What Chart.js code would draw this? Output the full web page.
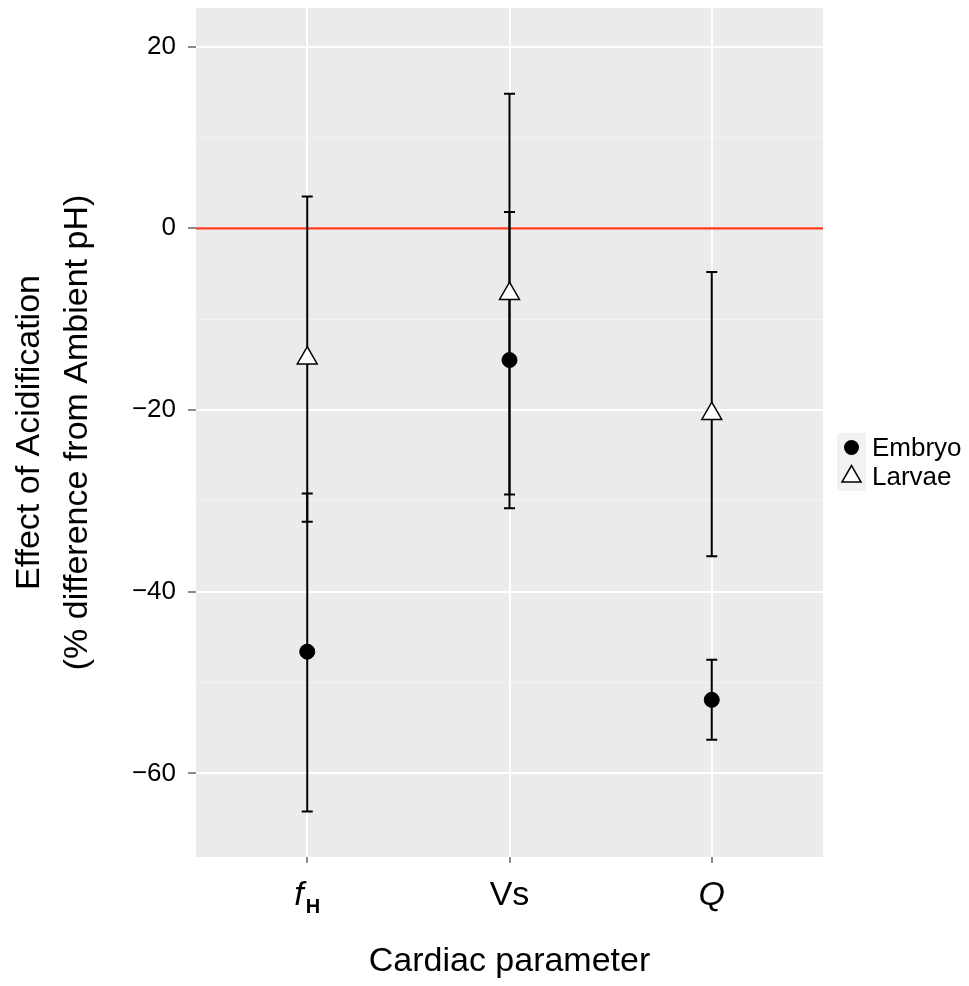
<!DOCTYPE html>
<html>
<head>
<meta charset="utf-8">
<script src="https://cdn.jsdelivr.net/npm/chart.js@4.4.1/dist/chart.umd.min.js"></script>
<style>
  html, body { margin: 0; padding: 0; background: #fff; }
  canvas { display: block; }
</style>
</head>
<body>
<canvas id="chart" width="969" height="986"></canvas>
<script>
const categories = ["fH", "Vs", "Q"];
const catPos = [1, 2, 3];
const embryoMean = [-46.6, -14.5, -51.9];
const embryoLow = [-64.2, -30.8, -56.3];
const embryoHigh = [-29.2, 1.8, -47.5];
const larvaeMean = [-14.3, -7.2, -20.4];
const larvaeLow = [-32.3, -29.3, -36.1];
const larvaeHigh = [3.5, 14.8, -4.8];
const yTicks = [-60, -50, -40, -30, -20, -10, 0, 10, 20];
const yLabelled = [-60, -40, -20, 0, 20];

const FONT = "'Liberation Sans', Arial, Helvetica, sans-serif";

const toPoints = arr => arr.map((v, i) => ({ x: catPos[i], y: v }));

const errorBars = {
    id: "errorBars",
    beforeDraw(chart) {
        const { ctx, chartArea: a } = chart;
        ctx.save();
        ctx.fillStyle = "#ebebeb";
        ctx.fillRect(a.left, a.top, a.right - a.left, a.bottom - a.top);
        ctx.restore();
    },
    beforeDatasetsDraw(chart) {
        const { ctx, chartArea: a, scales: { x, y } } = chart;
        ctx.save();
        // zero reference line
        ctx.strokeStyle = "#ff3b1f";
        ctx.lineWidth = 2.2;
        ctx.beginPath();
        ctx.moveTo(a.left, y.getPixelForValue(0));
        ctx.lineTo(a.right, y.getPixelForValue(0));
        ctx.stroke();
        // error bars
        ctx.strokeStyle = "#000";
        ctx.lineWidth = 2;
        [[embryoLow, embryoHigh], [larvaeLow, larvaeHigh]].forEach(([lo, hi]) => {
            catPos.forEach((c, i) => {
                const px = x.getPixelForValue(c);
                const y1 = y.getPixelForValue(lo[i]), y2 = y.getPixelForValue(hi[i]);
                ctx.beginPath();
                ctx.moveTo(px, y1); ctx.lineTo(px, y2);
                ctx.moveTo(px - 5.5, y1); ctx.lineTo(px + 5.5, y1);
                ctx.moveTo(px - 5.5, y2); ctx.lineTo(px + 5.5, y2);
                ctx.stroke();
            });
        });
        ctx.restore();
    },
    afterDraw(chart) {
        const { ctx, scales: { x } } = chart;
        ctx.save();
        ctx.fillStyle = "#000";
        ctx.textBaseline = "alphabetic";
        const base = 905;
        // x tick labels
        catPos.forEach((c, i) => {
            const px = x.getPixelForValue(c);
            if (categories[i] === "fH") {
                ctx.font = "italic 34px " + FONT;
                const w1 = ctx.measureText("f").width;
                ctx.font = "bold 20px " + FONT;
                const w2 = ctx.measureText("H").width;
                const start = px - (w1 + w2 + 2) / 2;
                ctx.textAlign = "left";
                ctx.font = "italic 34px " + FONT;
                ctx.fillText("f", start, base);
                ctx.font = "bold 20px " + FONT;
                ctx.fillText("H", start + w1 + 2, base + 8);
            } else {
                ctx.textAlign = "center";
                ctx.font = (categories[i] === "Q" ? "italic " : "") + "34px " + FONT;
                ctx.fillText(categories[i], px, base);
            }
        });
        // legend
        const items = [["Embryo", "circle"], ["Larvae", "triangle"]];
        items.forEach(([label, shape], k) => {
            const top = 433 + k * 29;
            ctx.fillStyle = "#f2f2f2";
            ctx.fillRect(837, top, 29, 29);
            const cx = 851.5, cy = top + 14.5;
            ctx.strokeStyle = "#000";
            ctx.lineWidth = 1.5;
            if (shape === "circle") {
                ctx.fillStyle = "#000";
                ctx.beginPath(); ctx.arc(cx, cy, 7.5, 0, Math.PI * 2); ctx.fill();
            } else {
                const r = 11;
                ctx.fillStyle = "#fff";
                ctx.beginPath();
                ctx.moveTo(cx, cy - r);
                ctx.lineTo(cx + r * 0.866, cy + r * 0.5);
                ctx.lineTo(cx - r * 0.866, cy + r * 0.5);
                ctx.closePath(); ctx.fill(); ctx.stroke();
            }
            ctx.fillStyle = "#000";
            ctx.font = "26px " + FONT;
            ctx.textAlign = "left";
            ctx.textBaseline = "middle";
            ctx.fillText(label, 872, cy + 1);
            ctx.textBaseline = "alphabetic";
        });
        ctx.restore();
    }
};

new Chart(document.getElementById("chart"), {
    type: "scatter",
    data: {
        datasets: [
            { label: "Embryo", data: toPoints(embryoMean), pointStyle: "circle", pointRadius: 7.5,
              backgroundColor: "#000", borderColor: "#000", borderWidth: 1 },
            { label: "Larvae", data: toPoints(larvaeMean), pointStyle: "triangle", pointRadius: 11.5,
              backgroundColor: "#fff", borderColor: "#000", borderWidth: 1.5 }
        ]
    },
    options: {
        responsive: false,
        animation: false,
        devicePixelRatio: 1,
        layout: { autoPadding: false, padding: { top: 8, right: 146, left: 0, bottom: 0 } },
        plugins: { legend: { display: false }, tooltip: { enabled: false } },
        scales: {
            x: {
                type: "linear", min: 0.45, max: 3.55,
                afterBuildTicks: s => { s.ticks = catPos.map(v => ({ value: v })); },
                afterFit: s => { s.height = 129; s.paddingLeft = 0; s.paddingRight = 0; },
                grid: { color: "#fff", lineWidth: 2, tickColor: "#8a8a8a", tickLength: 6, tickWidth: 2 },
                border: { display: false },
                ticks: { display: false },
                title: { display: true, text: "Cardiac parameter", color: "#000",
                         font: { family: FONT, size: 34 }, padding: { top: 42 } }
            },
            y: {
                type: "linear", min: -69.2, max: 24.25,
                afterBuildTicks: s => { s.ticks = yTicks.map(v => ({ value: v })); },
                afterFit: s => { s.width = 196; s.paddingTop = 0; s.paddingBottom = 0; },
                grid: {
                    color: c => yLabelled.includes(c.tick.value) ? "#fff" : "#f4f4f4",
                    lineWidth: c => yLabelled.includes(c.tick.value) ? 2 : 1,
                    tickColor: c => yLabelled.includes(c.tick.value) ? "#8a8a8a" : "rgba(0,0,0,0)",
                    tickLength: 8, tickWidth: 2
                },
                border: { display: false },
                ticks: {
                    color: "#000", padding: 12, font: { family: FONT, size: 26 },
                    callback: v => yLabelled.includes(v) ? (v < 0 ? "\u2212" + Math.abs(v) : String(v)) : ""
                },
                title: { display: true, text: ["Effect of Acidification", "(% difference from Ambient pH)"],
                         color: "#000", font: { family: FONT, size: 34, lineHeight: 1.4 }, padding: { top: 6 } }
            }
        }
    },
    plugins: [errorBars]
});
</script>
</body>
</html>
